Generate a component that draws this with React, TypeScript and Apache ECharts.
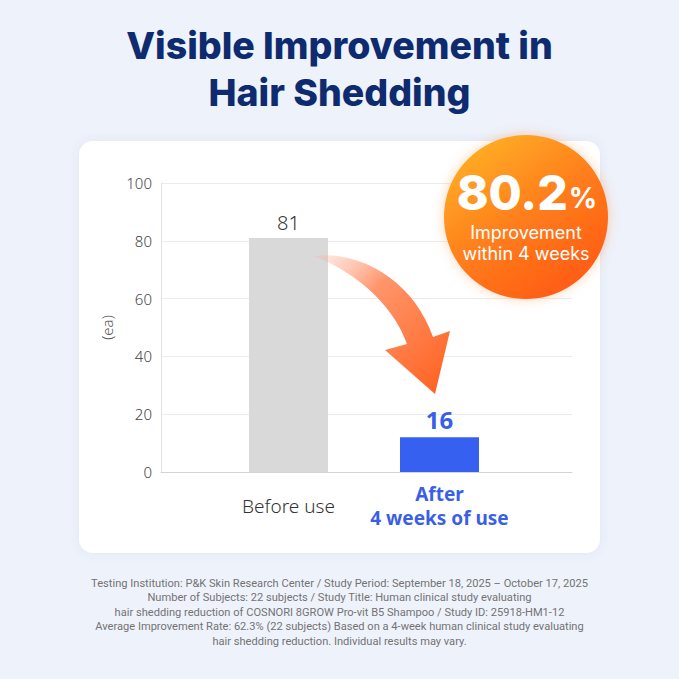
import React, { useEffect, useRef } from "react";
import * as echarts from "echarts";

// ---- data ----
const categories = ["Before use", "After\n4 weeks of use"];
// bar heights as drawn in the picture (the second bar is drawn at ~12)
const barValues = [81, 12];
// value labels printed above the bars
const valueLabels = ["81", "16"];
const yTicks = { min: 0, max: 100, interval: 20 };
const titleLines = ["Visible Improvement in", "Hair Shedding"];
const badgeValue = "80.2";
const badgeUnit = "%";
const badgeLines = ["Improvement", "within 4 weeks"];
const footnoteLines = [
  "Testing Institution: P&K Skin Research Center / Study Period: September 18, 2025 \u2013 October 17, 2025",
  "Number of Subjects: 22 subjects / Study Title: Human clinical study evaluating",
  "hair shedding reduction of COSNORI 8GROW Pro-vit B5 Shampoo / Study ID: 25918-HM1-12",
  "Average Improvement Rate: 62.3% (22 subjects) Based on a 4-week human clinical study evaluating",
  "hair shedding reduction. Individual results may vary.",
];
const yAxisName = "(ea)";

const ARROW_D =
  "M313 256 C362 250 414 282 433 337 L450 331 L435 394 L385 350 L407 344 C392 302 352 270 313 256 Z";

const BLUE = "#3a5fe6";
const NAVY = "#0d2b6e";
const LIGHT_FONT = "'Noto Sans', Roboto, sans-serif";

export default function App() {
  const ref = useRef<HTMLDivElement>(null);
  useEffect(() => {
    if (!ref.current) return;
    try {
      echarts.graphic.registerShape("arrowShape", echarts.graphic.extendPath(ARROW_D, {}) as any);
    } catch (e) {}
    const chart = echarts.init(ref.current, null, { renderer: "svg" });
    const option: any = {
      animation: false,
      backgroundColor: "#eef2fb",
      grid: [
        { left: 161, top: 183, width: 411, height: 289 },
        { left: 213, top: 183, width: 302, height: 289 },
      ],
      xAxis: [
        {
          gridIndex: 0,
          type: "category",
          data: [""],
          axisLine: { show: true, lineStyle: { color: "#d4d4d4", width: 1 } },
          axisTick: { show: false },
          axisLabel: { show: false },
        },
        {
          gridIndex: 1,
          type: "category",
          data: [
            {
              value: categories[0],
              textStyle: {
                fontFamily: LIGHT_FONT,
                fontWeight: 300,
                fontSize: 19,
                color: "#333",
                lineHeight: 48,
              },
            },
            {
              value: categories[1],
              textStyle: {
                fontFamily: LIGHT_FONT,
                fontWeight: 700,
                fontSize: 19,
                color: BLUE,
                lineHeight: 24,
              },
            },
          ],
          axisLine: { show: false },
          axisTick: { show: false },
          axisLabel: { margin: 10, interval: 0 },
        },
      ],
      yAxis: [
        {
          gridIndex: 0,
          type: "value",
          min: yTicks.min,
          max: yTicks.max,
          interval: yTicks.interval,
          name: yAxisName,
          nameLocation: "middle",
          nameRotate: 90,
          nameGap: 47,
          nameTextStyle: { fontFamily: LIGHT_FONT, fontSize: 15, color: "#555", fontWeight: 300 },
          axisLine: { show: true, lineStyle: { color: "#e2e2e2" } },
          axisTick: { show: false },
          axisLabel: { margin: 9, fontFamily: LIGHT_FONT, fontSize: 15, color: "#444", fontWeight: 300 },
          splitLine: { lineStyle: { color: "#ececec", width: 1 } },
        },
        {
          gridIndex: 1,
          type: "value",
          min: yTicks.min,
          max: yTicks.max,
          show: false,
          splitLine: { show: false },
        },
      ],
      series: [
        {
          type: "bar",
          xAxisIndex: 1,
          yAxisIndex: 1,
          barWidth: 79,
          data: [
            {
              value: barValues[0],
              itemStyle: { color: "#d9d9d9" },
              label: {
                show: true,
                position: "top",
                distance: 5,
                formatter: valueLabels[0],
                fontFamily: LIGHT_FONT,
                fontWeight: 300,
                fontSize: 20,
                color: "#333",
              },
            },
            {
              value: barValues[1],
              itemStyle: { color: "#3660f0" },
              label: {
                show: true,
                position: "top",
                distance: 6,
                formatter: valueLabels[1],
                fontFamily: LIGHT_FONT,
                fontWeight: 700,
                fontSize: 24,
                color: BLUE,
              },
            },
          ],
        },
      ],
      graphic: [
        {
          type: "rect",
          z: -10,
          shape: { x: 79, y: 141, width: 521, height: 412, r: 14 },
          style: { fill: "#ffffff", shadowBlur: 10, shadowColor: "rgba(90,110,170,0.10)" },
        },
        {
          type: "text",
          z: 100,
          x: 339.5,
          y: 68.5,
          style: {
            text: titleLines.join("\n"),
            fontFamily: "Inter, 'Noto Sans', sans-serif",
            fontWeight: 800,
            fontSize: 37.5,
            lineHeight: 47,
            fill: NAVY,
            align: "center",
            verticalAlign: "middle",
          },
        },
        {
          type: "arrowShape",
          z: 100,
          x: 0,
          y: 0,
          style: {
            fill: new echarts.graphic.LinearGradient(0, 0, 1, 1, [
              { offset: 0, color: "rgba(255,175,150,0.2)" },
              { offset: 0.35, color: "rgba(255,130,80,0.85)" },
              { offset: 1, color: "#ff5e1a" },
            ]),
          },
        },
        {
          type: "circle",
          z: 100,
          shape: { cx: 526, cy: 217, r: 82 },
          style: {
            fill: new echarts.graphic.LinearGradient(0.15, 0, 0.85, 1, [
              { offset: 0, color: "#ffb326" },
              { offset: 0.5, color: "#ff7d1c" },
              { offset: 1, color: "#ff5612" },
            ]),
            shadowBlur: 12,
            shadowColor: "rgba(255,110,20,0.30)",
          },
        },
        {
          type: "text",
          z: 101,
          x: 527,
          y: 192,
          style: {
            text: `{a|${badgeValue}}{b|${badgeUnit}}`,
            align: "center",
            verticalAlign: "middle",
            rich: {
              a: { fontFamily: "Inter, sans-serif", fontWeight: 800, fontSize: 48, lineHeight: 48, fill: "#fff", color: "#fff" },
              b: { fontFamily: "Inter, sans-serif", fontWeight: 700, fontSize: 28, lineHeight: 48, fill: "#fff", color: "#fff", padding: [12, 0, 0, 1] },
            },
          },
        },
        {
          type: "text",
          z: 101,
          x: 526,
          y: 243,
          style: {
            text: badgeLines.join("\n"),
            fontFamily: "Inter, sans-serif",
            fontWeight: 400,
            fontSize: 18,
            lineHeight: 21,
            fill: "#fff",
            align: "center",
            verticalAlign: "middle",
          },
        },
        {
          type: "text",
          z: 100,
          x: 339.5,
          y: 612,
          style: {
            text: footnoteLines.join("\n"),
            fontFamily: "Roboto, sans-serif",
            fontWeight: 400,
            fontSize: 11.1,
            lineHeight: 14.5,
            fill: "#737373",
            align: "center",
            verticalAlign: "middle",
          },
        },
      ],
    };
    chart.setOption(option);
    return () => chart.dispose();
  }, []);
  return (
    <div
      ref={ref}
      style={{ position: "fixed", left: 0, top: 0, width: 679, height: 679 }}
    />
  );
}
